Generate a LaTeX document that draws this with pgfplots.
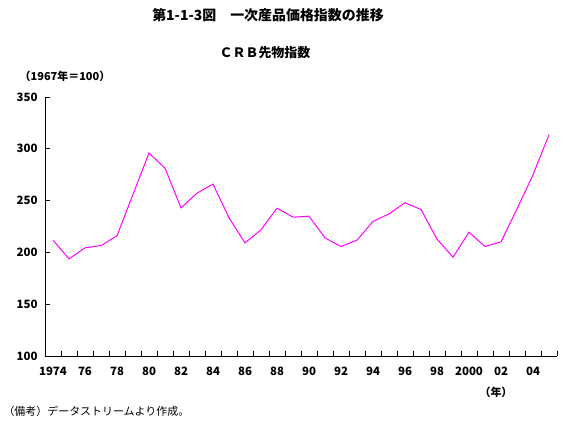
\documentclass[border=0pt]{standalone}
\usepackage{pgfplots}
\pgfplotsset{compat=1.18}
\usepackage{fontspec}
\setmainfont{Noto Sans CJK JP}
\definecolor{mag}{RGB}{255,0,255}
\begin{document}
\begin{tikzpicture}
\useasboundingbox (0,0) rectangle (566bp,422bp);
\begin{axis}[
 at={(45bp,66bp)}, anchor=south west,
 scale only axis, width=512bp, height=259bp,
 xmin=1973.5, xmax=2005.5, ymin=100, ymax=350,
 axis lines=left, axis line style={-, line width=0.8pt},
 xtick={1974,1976,...,2004},
 xticklabels={1974,76,78,80,82,84,86,88,90,92,94,96,98,2000,02,04},
 major x tick style={draw=none},
 minor xtick={1974.5,1975.5,...,2005.5},
 ytick={100,150,...,350},
 tick align=inside,
 major tick length=5bp, minor tick length=5bp,
 tick style={black, line width=0.8pt},
 /pgf/number format/assume math mode=true,
 ticklabel style={font=\fontsize{11.5}{12}\selectfont\bfseries},
 xticklabel style={yshift=-8bp},
 yticklabel style={xshift=-4bp},
 clip=false,
]
\addplot[color=mag, line width=1pt] coordinates {
(1974,211.8) (1975,193.7) (1976,204.4) (1977,206.6) (1978,216.0)
(1979,256.0) (1980,295.9) (1981,281.4) (1982,243.0) (1983,257.2)
(1984,265.9) (1985,233.4) (1986,209.2) (1987,221.8) (1988,242.7)
(1989,234.0) (1990,235.0) (1991,214.0) (1992,205.7) (1993,211.8)
(1994,229.8) (1995,237.2) (1996,247.9) (1997,241.4) (1998,212.8)
(1999,195.4) (2000,219.5) (2001,205.7) (2002,210.2) (2003,242.0)
(2004,274.9) (2005,313.6)
};
\end{axis}
\node at (268bp,407bp) {\fontsize{14}{16}\selectfont\bfseries 第1-1-3図　一次産品価格指数の推移};
\node at (265bp,369bp) {\fontsize{13}{15}\selectfont\bfseries ＣＲＢ先物指数};
\node at (65bp,346bp) {\fontsize{11}{13}\selectfont\bfseries （1967年＝100）};
\node at (496bp,30bp) {\fontsize{11}{13}\selectfont\bfseries （年）};
\node[anchor=west] at (0bp,11bp) {\fontsize{11}{13}\selectfont （備考）データストリームより作成。};
\end{tikzpicture}
\end{document}
